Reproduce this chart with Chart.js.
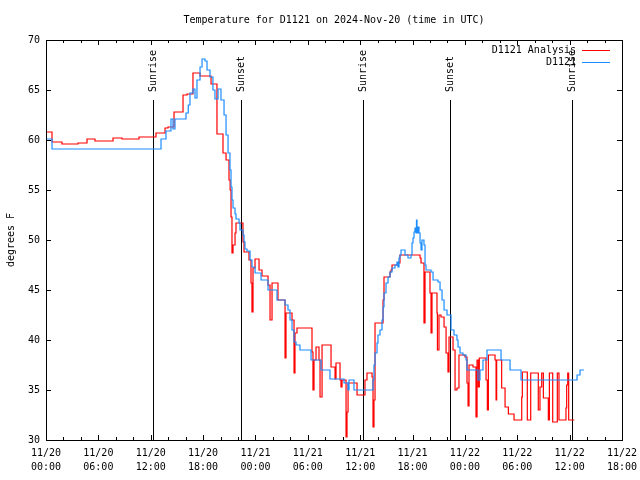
<!DOCTYPE html>
<html>
<head>
<meta charset="utf-8">
<script src="https://cdn.jsdelivr.net/npm/chart.js@4"></script>
<style>
  html, body { margin: 0; padding: 0; background: #fff; }
  #box { width: 640px; height: 480px; }
</style>
</head>
<body>
<div id="box"><canvas id="tempChart" width="640" height="480"></canvas></div>
<script>
// heures depuis 11/20 00:00 UTC
const analysisHours = [0, 0.69, 1.83, 3.67, 4.70, 5.61, 7.68, 8.71, 10.66, 12.60, 13.64, 13.98, 14.67, 15.70, 16.16, 16.84, 17.65, 18.91, 19.59,
  20.28, 20.63, 20.97, 21.10, 21.20, 21.31, 21.43, 21.66, 21.77, 22.57, 22.69, 23.26, 23.49, 23.60, 23.72, 23.95, 24.41, 24.75, 25.44, 25.67, 25.90,
  26.58, 27.39, 27.50, 28.19, 28.42, 28.53, 28.76, 30.48, 30.59, 30.71, 30.94, 31.28, 31.40, 31.63, 32.66, 33.12, 33.23, 33.69, 33.80, 33.92,
  34.38, 34.49, 34.61, 35.64, 36.55, 36.78, 37.36, 37.47, 37.58, 37.70, 38.62, 38.73, 39.42, 39.53, 39.65, 40.33, 40.56, 42.86, 42.97, 43.31,
  43.43, 44.00, 44.12, 44.23, 44.80, 44.85, 45.03, 45.26, 45.61, 45.84, 46.06, 46.18, 46.64, 46.87, 47.09, 47.32, 48.01, 48.24, 48.36, 48.47,
  48.93, 49.27, 49.39, 49.54, 49.65, 50.42, 50.57, 50.69, 51.45, 51.57, 51.64, 52.21, 52.60, 52.98, 53.63, 54.51, 54.58, 55.15, 55.54, 56.41,
  56.60, 56.80, 56.99, 57.56, 57.68, 58.06, 58.59, 58.78, 59.58, 59.66, 59.78, 59.89, 60.54];
const analysisTemps = [60.8, 59.8, 59.6, 59.7, 60.1, 59.9, 60.2, 60.1, 60.3, 60.7, 61.2, 61.3, 62.8, 64.5, 64.6, 66.7, 66.4, 65.6, 60.6,
  58.7, 58.0, 56.0, 55.0, 52.3, 48.7, 49.5, 50.7, 51.7, 49.8, 48.8, 48.0, 45.7, 42.8, 47.2, 48.1, 47.0, 46.4, 45.5, 42.0, 45.7,
  44.0, 38.2, 42.7, 42.0, 36.7, 40.7, 41.2, 38.8, 35.0, 38.0, 39.3, 38.0, 34.3, 39.5, 37.3, 36.1, 37.7, 36.0, 35.3, 36.0,
  30.3, 32.8, 35.7, 34.5, 36.0, 36.7, 36.3, 31.3, 34.0, 41.7, 44.0, 46.3, 46.8, 47.0, 47.5, 47.7, 48.5, 48.2, 47.7, 41.7,
  46.8, 44.7, 40.7, 44.7, 42.7, 39.0, 42.5, 42.3, 41.3, 38.7, 36.8, 40.3, 39.0, 35.0, 35.2, 38.5, 38.3, 35.7, 33.4, 37.5,
  37.3, 32.3, 38.0, 35.3, 38.2, 36.0, 33.0, 38.5, 38.0, 34.0, 38.0, 35.2, 33.3, 32.6, 32.0, 34.3, 36.8, 32.0, 36.7, 33.0,
  35.3, 36.7, 34.2, 32.0, 36.7, 31.8, 36.7, 32.0, 33.2, 35.5, 36.7, 32.0, 32.0];

const stationHours = [0, 0.69, 13.18, 13.75, 14.32, 14.55, 14.78, 16.04, 16.30, 16.50, 16.84, 17.07, 17.30, 17.65, 17.88, 18.22, 18.45, 18.79,
  19.13, 19.36, 19.71, 20.05, 20.40, 20.63, 20.86, 21.08, 21.20, 21.31, 21.43, 21.66, 21.77, 22.12, 22.23, 22.57, 22.69, 22.80, 23.03, 23.38,
  23.60, 23.95, 24.64, 25.44, 26.47, 27.39, 27.73, 27.96, 28.19, 28.42, 28.65, 29.10, 30.37, 31.51, 32.54, 34.15, 34.61, 34.72, 35.29, 37.47,
  37.58, 37.70, 37.93, 38.04, 38.27, 38.50, 38.62, 38.73, 38.96, 39.19, 39.42, 39.65, 39.99, 40.22, 40.33, 40.45, 40.56, 40.68, 41.14, 41.48,
  41.82, 41.94, 42.05, 42.17, 42.28, 42.40, 42.45, 42.51, 42.63, 42.74, 42.86, 42.97, 43.08, 43.31, 43.43, 43.54, 44.12, 44.35, 44.92, 45.15,
  45.38, 45.61, 45.95, 46.41, 46.75, 47.09, 47.21, 47.44, 47.78, 48.13, 48.24, 49.50, 49.73, 50.07, 50.53, 52.14, 53.17, 54.43, 60.62, 60.85,
  61.19, 61.65];
const stationTemps = [60.1, 59.1, 60.1, 60.9, 62.1, 61.1, 62.1, 62.7, 63.5, 64.7, 65.1, 64.2, 66.0, 67.3, 68.1, 67.9, 67.0, 66.3,
  65.0, 64.1, 65.1, 64.0, 62.5, 60.5, 58.7, 57.0, 55.3, 54.0, 53.2, 52.6, 52.1, 51.7, 51.0, 50.5, 49.8, 49.1, 48.9, 48.0,
  47.3, 46.7, 46.0, 45.0, 44.0, 43.5, 43.0, 42.0, 41.0, 39.8, 39.5, 39.0, 38.0, 37.0, 36.1, 35.7, 35.0, 36.0, 35.0, 36.0,
  37.5, 38.7, 39.7, 40.5, 41.0, 42.0, 43.3, 44.7, 45.7, 46.3, 46.8, 47.2, 47.5, 47.8, 47.3, 48.2, 48.5, 49.0, 48.5, 48.2,
  48.5, 49.7, 50.2, 50.8, 51.2, 50.7, 52.0, 50.7, 51.3, 50.7, 49.7, 49.0, 50.0, 49.5, 47.5, 47.0, 46.8, 46.0, 45.8, 45.0,
  44.0, 43.0, 42.5, 41.0, 40.5, 40.0, 39.3, 38.7, 38.5, 38.0, 37.0, 36.0, 37.0, 38.0, 39.0, 38.0, 37.0, 36.0, 36.0, 36.5,
  37.0, 37.0];

const sunHours = [12.32, 22.40, 36.38, 46.35, 60.33];
const sunLabels = ['Sunrise', 'Sunset', 'Sunrise', 'Sunset', 'Sunrise'];
const sunLineTop = 64.0;

const xTickDates = ['11/20', '11/20', '11/20', '11/20', '11/21', '11/21', '11/21', '11/21', '11/22', '11/22', '11/22', '11/22'];
const xTickTimes = ['00:00', '06:00', '12:00', '18:00', '00:00', '06:00', '12:00', '18:00', '00:00', '06:00', '12:00', '18:00'];

const seriesNames = ['D1121 Analysis', 'D1121'];
const seriesColors = ['#ff0000', '#1a8cff'];

const FONT = "'DejaVu Sans Mono', 'Liberation Mono', monospace";

function toPoints(xs, ys) {
  return xs.map((x, i) => ({ x: x, y: ys[i] }));
}

const datasets = [
  {
    label: seriesNames[1], data: toPoints(stationHours, stationTemps),
    borderColor: seriesColors[1], borderWidth: 1.2, pointRadius: 0, stepped: true, order: 0
  },
  {
    label: seriesNames[0], data: toPoints(analysisHours, analysisTemps),
    borderColor: seriesColors[0], borderWidth: 1.2, pointRadius: 0, stepped: true, order: 1
  }
];
sunHours.forEach(h => {
  datasets.push({
    label: 'sun', data: [{ x: h, y: 30 }, { x: h, y: sunLineTop }],
    borderColor: '#000', borderWidth: 1, pointRadius: 0, order: 2
  });
});

// décor façon gnuplot : cadre, petites graduations, titre, légende
const gnuplotDecor = {
  id: 'gnuplotDecor',
  afterDatasetsDraw(chart) {
    const ctx = chart.ctx;
    const a = chart.chartArea;
    const xs = chart.scales.x, ys = chart.scales.y;
    ctx.save();
    ctx.strokeStyle = '#000';
    ctx.lineWidth = 1;
    ctx.strokeRect(Math.round(a.left) + 0.5, Math.round(a.top) + 0.5, Math.round(a.right - a.left), Math.round(a.bottom - a.top));

    ctx.beginPath();
    for (let h = 0; h <= 66; h += 2) {
      const px = Math.round(xs.getPixelForValue(h)) + 0.5;
      const len = h % 6 === 0 ? 5 : 3;
      ctx.moveTo(px, a.bottom); ctx.lineTo(px, a.bottom - len);
      ctx.moveTo(px, a.top); ctx.lineTo(px, a.top + len);
    }
    for (let v = 30; v <= 70; v += 5) {
      const py = Math.round(ys.getPixelForValue(v)) + 0.5;
      ctx.moveTo(a.left, py); ctx.lineTo(a.left + 5, py);
      ctx.moveTo(a.right, py); ctx.lineTo(a.right - 5, py);
    }
    ctx.stroke();

    ctx.fillStyle = '#000';
    ctx.font = '10px ' + FONT;
    // étiquettes lever / coucher
    sunHours.forEach((h, i) => {
      const px = xs.getPixelForValue(h);
      ctx.save();
      ctx.translate(px, 92);
      ctx.rotate(-Math.PI / 2);
      ctx.textAlign = 'left';
      ctx.textBaseline = 'middle';
      ctx.fillText(sunLabels[i], 0, 0);
      ctx.restore();
    });

    // titre
    ctx.textAlign = 'center';
    ctx.textBaseline = 'middle';
    ctx.fillText('Temperature for D1121 on 2024-Nov-20 (time in UTC)', (a.left + a.right) / 2, 20);

    // axe y
    ctx.save();
    ctx.translate(11, (a.top + a.bottom) / 2);
    ctx.rotate(-Math.PI / 2);
    ctx.fillText('degrees F', 0, 0);
    ctx.restore();

    // légende
    ctx.textAlign = 'right';
    seriesNames.forEach((name, i) => {
      const y = 50 + i * 12;
      ctx.fillStyle = '#000';
      ctx.fillText(name, a.right - 46, y);
      ctx.strokeStyle = seriesColors[i];
      ctx.beginPath();
      ctx.moveTo(a.right - 40, Math.round(y) + 0.5);
      ctx.lineTo(a.right - 12, Math.round(y) + 0.5);
      ctx.stroke();
    });
    ctx.restore();
  }
};

new Chart(document.getElementById('tempChart').getContext('2d'), {
  type: 'line',
  data: { datasets: datasets },
  options: {
    responsive: false,
    animation: false,
    layout: { padding: { top: 40, right: 18, left: 0, bottom: 0 } },
    scales: {
      x: {
        type: 'linear', min: 0, max: 66,
        afterFit: s => { s.height = 40; s.paddingLeft = 0; s.paddingRight = 0; },
        grid: { display: false, drawTicks: false },
        border: { display: false },
        ticks: {
          stepSize: 6, autoSkip: false, maxRotation: 0, padding: 6,
          color: '#000', font: { family: FONT, size: 10, lineHeight: 1.45 },
          callback: (v) => {
            const i = Math.round(v / 6);
            return [xTickDates[i], xTickTimes[i]];
          }
        }
      },
      y: {
        min: 30, max: 70,
        afterFit: s => { s.width = 46; s.paddingTop = 0; s.paddingBottom = 0; },
        grid: { display: false, drawTicks: false },
        border: { display: false },
        ticks: { stepSize: 5, padding: 6, color: '#000', font: { family: FONT, size: 10 } }
      }
    },
    plugins: {
      legend: { display: false },
      tooltip: { enabled: false }
    }
  },
  plugins: [gnuplotDecor]
});
</script>
</body>
</html>
